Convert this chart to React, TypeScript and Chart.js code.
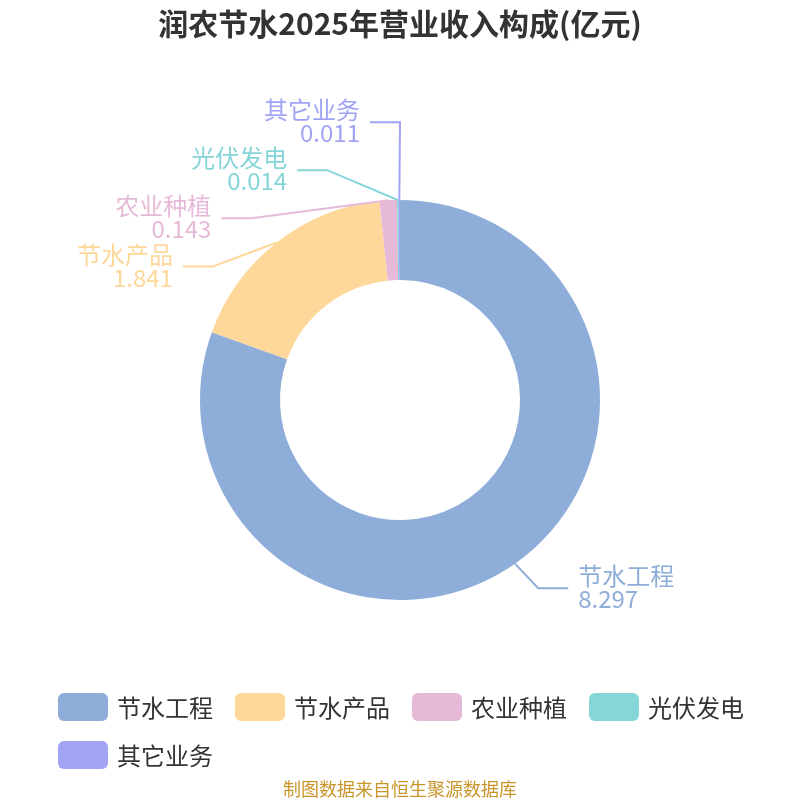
import React, { useEffect, useRef } from 'react';
import Chart from 'chart.js/auto';

// === Data ===
const TITLE = '润农节水2025年营业收入构成(亿元)';
const SOURCE = '制图数据来自恒生聚源数据库';
const LABELS = ['节水工程', '节水产品', '农业种植', '光伏发电', '其它业务'];
const VALUES = [8.297, 1.841, 0.143, 0.014, 0.011];
const COLORS = ['#8EADD9', '#FED89A', '#E7B9D8', '#86D5D8', '#A1A4F5'];

const FONT = '"Noto Sans CJK SC", "Noto Sans", sans-serif';

// === Outside labels with leader lines ===
const pieLabels = {
  id: 'pieLabels',
  afterDatasetsDraw(chart: any) {
    const ctx = chart.ctx;
    const arcs = chart.getDatasetMeta(0).data;
    const len = 30;
    const len2 = 30;
    const lineH = 48;
    const items: any[] = arcs.map((arc: any, i: number) => {
      const { x, y, startAngle, endAngle, outerRadius } = arc.getProps(
        ['x', 'y', 'startAngle', 'endAngle', 'outerRadius'], true);
      const mid = (startAngle + endAngle) / 2;
      const cos = Math.cos(mid);
      const sin = Math.sin(mid);
      return {
        i, cx: x, cy: y, r: outerRadius,
        ax: x + cos * outerRadius, ay: y + sin * outerRadius,
        ex: x + cos * (outerRadius + len) + (cos >= 0 ? 6 : 0), ey: y + sin * (outerRadius + len),
        dir: cos >= 0 ? 1 : -1,
      };
    });

    // resolve vertical overlaps per side: mean of push-down and push-up passes
    [1, -1].forEach((dir) => {
      const side = items.filter((it) => it.dir === dir).sort((a, b) => a.ey - b.ey || (dir < 0 ? b.i - a.i : a.i - b.i));
      if (side.length < 2) return;
      const down = side.map((it) => it.ey);
      for (let k = 1; k < down.length; k++) down[k] = Math.max(down[k], down[k - 1] + lineH);
      const up = side.map((it) => it.ey);
      for (let k = up.length - 2; k >= 0; k--) up[k] = Math.min(up[k], up[k + 1] - lineH);
      const moved = side.some((it, k) => Math.abs((down[k] + up[k]) / 2 - it.ey) > 0.5);
      if (!moved) return;
      side.forEach((it, k) => {
        const ny = (down[k] + up[k]) / 2;
        // re-align elbows on an ellipse around the pie
        const rA = it.r + 24;
        const rB = it.r + 43;
        const dy = Math.abs(ny - it.cy);
        const f = Math.max(0, 1 - (dy * dy) / (rB * rB));
        it.ex = it.cx + dir * Math.sqrt(f) * rA;
        it.ey = ny;
      });
    });

    ctx.save();
    items.forEach((it) => {
      const color = COLORS[it.i];
      const hx = it.ex + it.dir * len2;
      ctx.strokeStyle = color;
      ctx.lineWidth = 2;
      ctx.beginPath();
      ctx.moveTo(it.ax, it.ay);
      ctx.lineTo(it.ex, it.ey);
      ctx.lineTo(hx, it.ey);
      ctx.stroke();

      ctx.fillStyle = color;
      ctx.font = `24px ${FONT}`;
      ctx.textAlign = it.dir > 0 ? 'left' : 'right';
      ctx.textBaseline = 'middle';
      const tx = hx + it.dir * 10;
      ctx.fillText(LABELS[it.i], tx, it.ey - 12);
      ctx.fillText(String(VALUES[it.i]), tx, it.ey + 11);
    });
    ctx.restore();
  },
};

// === Title, legend, source ===
const decorations = {
  id: 'decorations',
  afterDraw(chart: any) {
    const ctx = chart.ctx;
    const w = chart.width;
    ctx.save();
    ctx.fillStyle = '#333333';
    ctx.font = `bold 30px ${FONT}`;
    ctx.textAlign = 'center';
    ctx.textBaseline = 'middle';
    ctx.fillText(TITLE, w / 2, 24);

    // legend
    ctx.font = `24px ${FONT}`;
    ctx.textAlign = 'left';
    const boxW = 50;
    const boxH = 28;
    const left = 58;
    let x = left;
    let y = 707;
    LABELS.forEach((label, i) => {
      const tw = ctx.measureText(label).width;
      const itemW = boxW + 10 + tw;
      if (x + itemW > w - left + 10) {
        x = left;
        y += 48;
      }
      ctx.fillStyle = COLORS[i];
      ctx.beginPath();
      ctx.roundRect(x, y - boxH / 2, boxW, boxH, 6);
      ctx.fill();
      ctx.fillStyle = '#333333';
      ctx.fillText(label, x + boxW + 9, y + 1);
      x += itemW + 21;
    });

    ctx.fillStyle = '#C9962B';
    ctx.font = `18px ${FONT}`;
    ctx.textAlign = 'center';
    ctx.fillText(SOURCE, w / 2, 789);
    ctx.restore();
  },
};

const App: React.FC = () => {
  const canvasRef = useRef<HTMLCanvasElement>(null);

  useEffect(() => {
    document.body.style.margin = '0';
    if (!canvasRef.current) return;
    const chart = new Chart(canvasRef.current, {
      type: 'doughnut',
      data: {
        labels: LABELS,
        datasets: [{
          data: VALUES,
          backgroundColor: COLORS,
          borderWidth: 0,
        }],
      },
      options: {
        responsive: false,
        animation: false,
        devicePixelRatio: 1,
        cutout: '60%',
        layout: { padding: { top: 200, bottom: 200, left: 200, right: 200 } },
        plugins: {
          legend: { display: false },
          title: { display: false },
          tooltip: { enabled: false },
        },
      },
      plugins: [pieLabels, decorations],
    });
    return () => chart.destroy();
  }, []);

  return (
    <div style={{ position: 'absolute', left: 0, top: 0, width: 800, height: 800, background: '#ffffff' }}>
      <canvas ref={canvasRef} width={800} height={800} />
    </div>
  );
};

export default App;
